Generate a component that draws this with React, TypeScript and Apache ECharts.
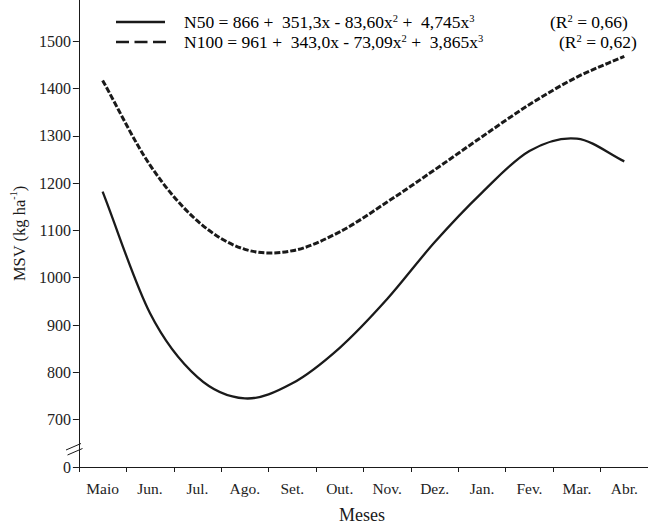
import React, { useEffect, useRef } from "react";
import * as echarts from "echarts";

const months = ["Maio", "Jun.", "Jul.", "Ago.", "Set.", "Out.", "Nov.", "Dez.", "Jan.", "Fev.", "Mar.", "Abr."];
const n50 = [1182, 925, 790, 745, 777, 852, 955, 1075, 1180, 1268, 1294, 1246];
const n100 = [1417, 1238, 1120, 1060, 1057, 1097, 1160, 1228, 1298, 1366, 1424, 1468];
const yTicks = [600, 700, 800, 900, 1000, 1100, 1200, 1300, 1400, 1500];

const FONT = "Liberation Serif";
const INK = "#1a1a1a";

function splineRenderer(lineWidth: number, lineDash: number[] | null) {
  return (params: any, api: any) => {
    if (params.dataIndexInside !== 0) return null;
    const n = params.dataInsideLength;
    const pts: number[][] = [];
    for (let i = 0; i < n; i++) {
      pts.push(api.coord([api.value(0, i), api.value(1, i)]));
    }
    const ext = [
      [2 * pts[0][0] - pts[1][0], 2 * pts[0][1] - pts[1][1]],
      ...pts,
      [2 * pts[n - 1][0] - pts[n - 2][0], 2 * pts[n - 1][1] - pts[n - 2][1]],
    ];
    let d = `M${pts[0][0]},${pts[0][1]}`;
    for (let i = 0; i < n - 1; i++) {
      const p0 = ext[i], p1 = ext[i + 1], p2 = ext[i + 2], p3 = ext[i + 3];
      const c1x = p1[0] + (p2[0] - p0[0]) / 6, c1y = p1[1] + (p2[1] - p0[1]) / 6;
      const c2x = p2[0] - (p3[0] - p1[0]) / 6, c2y = p2[1] - (p3[1] - p1[1]) / 6;
      d += ` C${c1x},${c1y} ${c2x},${c2y} ${p2[0]},${p2[1]}`;
    }
    return {
      type: "path",
      shape: { pathData: d },
      style: { fill: "none", stroke: INK, lineWidth, lineDash: lineDash || undefined },
    };
  };
}

export default function App() {
  const ref = useRef<HTMLDivElement>(null);
  useEffect(() => {
    if (!ref.current) return;
    const chart = echarts.init(ref.current, null, { renderer: "svg" });
    const richN = { fontFamily: FONT, fontSize: 17.5, lineHeight: 18, verticalAlign: "bottom", color: INK };
    const richS = { fontFamily: FONT, fontSize: 10.5, lineHeight: 10, verticalAlign: "top", color: INK };
    const option: any = {
      animation: false,
      backgroundColor: "#ffffff",
      grid: { left: 74, right: -10, top: 0, bottom: 57, containLabel: false },
      xAxis: {
        type: "category",
        data: months,
        boundaryGap: true,
        axisLine: { lineStyle: { color: INK, width: 1 } },
        axisTick: { show: true, length: 5, lineStyle: { color: INK } },
        axisLabel: { fontFamily: FONT, fontSize: 15.5, color: "#222", margin: 13 },
        splitLine: { show: false },
      },
      yAxis: {
        type: "value",
        min: 600,
        max: 1587,
        axisLine: { show: true, lineStyle: { color: INK, width: 1 } },
        axisTick: { show: true, length: 6, lineStyle: { color: INK }, customValues: yTicks },
        axisLabel: {
          fontFamily: FONT,
          fontSize: 16,
          color: "#222",
          margin: 8,
          customValues: yTicks,
          formatter: (v: number) => (v === 600 ? "0" : String(v)),
        },
        splitLine: { show: false },
        name: "{a|MSV (kg ha}{s|-1}{a|)}",
        nameLocation: "middle",
        nameGap: 45,
        nameRotate: 90,
        nameTextStyle: {
          rich: {
            a: { fontFamily: FONT, fontSize: 16.5, lineHeight: 20, verticalAlign: "bottom", color: INK },
            s: { fontFamily: FONT, fontSize: 10, lineHeight: 10, verticalAlign: "top", color: INK },
          },
        },
      },
      series: [
        {
          name: "N50",
          type: "custom",
          data: n50.map((v, i) => [i, v]),
          encode: { x: 0, y: 1 },
          renderItem: splineRenderer(2.3, null),
        },
        {
          name: "N100",
          type: "custom",
          data: n100.map((v, i) => [i, v]),
          encode: { x: 0, y: 1 },
          renderItem: splineRenderer(3, [6, 2]),
        },
      ],
      graphic: [
        { type: "line", shape: { x1: 116, y1: 22, x2: 165, y2: 22 }, style: { stroke: INK, lineWidth: 2.5 } },
        { type: "line", shape: { x1: 116, y1: 42, x2: 166, y2: 42 }, style: { stroke: INK, lineWidth: 2.5, lineDash: [13, 5.5] } },
        {
          type: "text",
          x: 184,
          y: 22,
          style: {
            text: "{n|N50 = 866 +  351,3x - 83,60x}{s|2}{n| +  4,745x}{s|3}",
            verticalAlign: "middle",
            rich: { n: richN, s: richS },
          },
        },
        {
          type: "text",
          x: 550,
          y: 22,
          style: { text: "{n|(R}{s|2}{n| = 0,66)}", verticalAlign: "middle", rich: { n: richN, s: richS } },
        },
        {
          type: "text",
          x: 184,
          y: 42,
          style: {
            text: "{n|N100 = 961 +  343,0x - 73,09x}{s|2}{n| +  3,865x}{s|3}",
            verticalAlign: "middle",
            rich: { n: richN, s: richS },
          },
        },
        {
          type: "text",
          x: 559,
          y: 42,
          style: { text: "{n|(R}{s|2}{n| = 0,62)}", verticalAlign: "middle", rich: { n: richN, s: richS } },
        },
        {
          type: "polygon",
          shape: { points: [[66, 450], [81, 443.5], [82.5, 448.5], [67.5, 455]] },
          style: { fill: "#ffffff" },
        },
        { type: "line", shape: { x1: 66, y1: 450, x2: 81, y2: 443.5 }, style: { stroke: INK, lineWidth: 1 } },
        { type: "line", shape: { x1: 67.5, y1: 455, x2: 82.5, y2: 448.5 }, style: { stroke: INK, lineWidth: 1 } },
        {
          type: "text",
          x: 362,
          y: 515,
          style: {
            text: "Meses",
            fontFamily: FONT,
            fontSize: 18,
            fill: INK,
            align: "center",
            verticalAlign: "middle",
          },
        },
      ],
    };
    chart.setOption(option);
    return () => chart.dispose();
  }, []);
  return <div ref={ref} style={{ position: "fixed", left: 0, top: 0, width: 648, height: 524 }} />;
}
